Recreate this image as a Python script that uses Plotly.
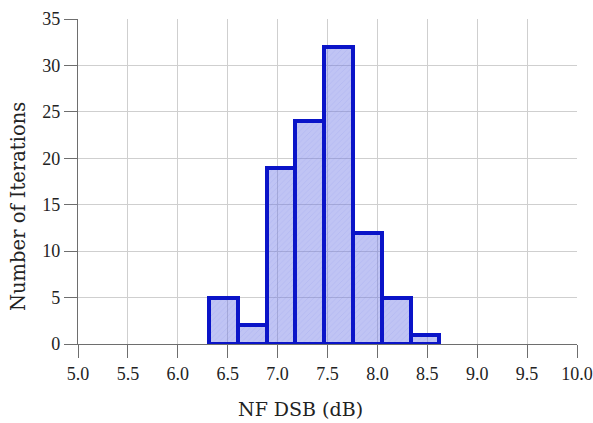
import plotly.graph_objects as go

# Histogram data (NF DSB in dB)
bin_start = 6.3126
bin_width = 0.2885
counts = [5, 2, 19, 24, 32, 12, 5, 1]

x_ticks = [5.0, 5.5, 6.0, 6.5, 7.0, 7.5, 8.0, 8.5, 9.0, 9.5, 10.0]
x_tick_labels = ["5.0", "5.5", "6.0", "6.5", "7.0", "7.5", "8.0", "8.5", "9.0", "9.5", "10.0"]
y_ticks = [0, 5, 10, 15, 20, 25, 30, 35]

centers = [bin_start + bin_width * (i + 0.5) for i in range(len(counts))]

fig = go.Figure()
fig.add_trace(go.Bar(
    x=centers, y=counts, width=[bin_width] * len(counts),
    marker=dict(color="rgba(105,115,228,0.42)",
                line=dict(color="#0a14c8", width=4),
                pattern=dict(shape="/", fgcolor="rgba(90,100,220,0.25)", size=4, solidity=0.2)),
    showlegend=False,
))

font = "Liberation Serif"
title_font = "DejaVu Serif"
fig.update_layout(
    width=593, height=423,
    margin=dict(l=78, r=16, t=19, b=79),
    paper_bgcolor="white", plot_bgcolor="white",
    bargap=0,
    font=dict(family=font, size=18, color="#222"),
    xaxis=dict(range=[5.0, 10.0], tickvals=x_ticks, ticktext=x_tick_labels,
               showgrid=True, gridcolor="#cfcfcf", gridwidth=1,
               showline=True, linecolor="#6e6e6e", linewidth=1.3,
               ticks="outside", ticklen=13, tickcolor="#6e6e6e", tickwidth=1.3,
               tickfont=dict(family=font, size=18),
               automargin=False, zeroline=False, layer="below traces"),
    yaxis=dict(range=[0, 35], tickvals=y_ticks,
               showgrid=True, gridcolor="#cfcfcf", gridwidth=1,
               showline=True, linecolor="#6e6e6e", linewidth=1.3,
               ticks="outside", ticklen=13, tickcolor="#6e6e6e", tickwidth=1.3,
               tickfont=dict(family=font, size=18),
               automargin=False, zeroline=False),
    annotations=[
        dict(text="NF DSB (dB)", xref="paper", yref="paper",
             x=(300 - 78) / 499, y=-(409 - 344) / 325, xanchor="center", yanchor="middle",
             showarrow=False, font=dict(family=title_font, size=19, color="#222")),
        dict(text="Number of Iterations", xref="paper", yref="paper",
             x=-(78 - 18) / 499, y=(344 - 207) / 325, xanchor="center", yanchor="middle",
             textangle=-90, showarrow=False, font=dict(family=title_font, size=19.5, color="#222")),
    ],
)

fig.write_html("out.html")
